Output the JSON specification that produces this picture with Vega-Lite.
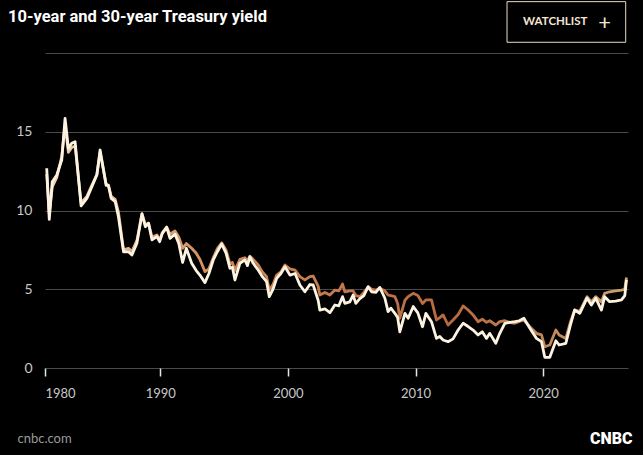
{
  "$schema": "https://vega.github.io/schema/vega-lite/v6.json",
  "autosize": {"type": "none"},
  "width": 583,
  "height": 315,
  "padding": {"left": 45, "top": 53, "right": 15, "bottom": 87},
  "background": "#000000",
  "config": {"view": {"stroke": null}},
  "title": {
    "text": "10-year and 30-year Treasury yield",
    "anchor": "start",
    "frame": "group",
    "dx": -37,
    "offset": -24.5,
    "color": "#ffffff",
    "font": "Roboto",
    "fontSize": 16.5,
    "fontWeight": "bold"
  },
  "data": {"values": [
    {"year": 1980.15, "y10": 12.68, "y30": 12.3},
    {"year": 1980.37, "y10": 9.44, "y30": 9.8},
    {"year": 1980.63, "y10": 11.83, "y30": 11.5},
    {"year": 1981.02, "y10": 12.25, "y30": 12.1},
    {"year": 1981.45, "y10": 13.2, "y30": 13.4},
    {"year": 1981.74, "y10": 15.85, "y30": 15.4},
    {"year": 1982.03, "y10": 13.95, "y30": 13.7},
    {"year": 1982.32, "y10": 14.27, "y30": 14.0},
    {"year": 1982.61, "y10": 14.37, "y30": 14.1},
    {"year": 1983.13, "y10": 10.29, "y30": 10.5},
    {"year": 1983.63, "y10": 10.77, "y30": 10.9},
    {"year": 1984.5, "y10": 12.25, "y30": 12.3},
    {"year": 1984.78, "y10": 13.84, "y30": 13.7},
    {"year": 1985.3, "y10": 11.6, "y30": 11.7},
    {"year": 1985.5, "y10": 11.6, "y30": 11.6},
    {"year": 1985.74, "y10": 10.77, "y30": 10.9},
    {"year": 1986.09, "y10": 10.56, "y30": 10.7},
    {"year": 1986.37, "y10": 9.6, "y30": 9.9},
    {"year": 1986.81, "y10": 7.38, "y30": 7.5},
    {"year": 1987.24, "y10": 7.38, "y30": 7.6},
    {"year": 1987.54, "y10": 7.17, "y30": 7.4},
    {"year": 1987.97, "y10": 7.92, "y30": 8.1},
    {"year": 1988.41, "y10": 9.78, "y30": 9.8},
    {"year": 1988.7, "y10": 8.97, "y30": 9.1},
    {"year": 1988.98, "y10": 9.19, "y30": 9.2},
    {"year": 1989.28, "y10": 8.13, "y30": 8.3},
    {"year": 1989.71, "y10": 8.34, "y30": 8.45},
    {"year": 1989.94, "y10": 8.02, "y30": 8.1},
    {"year": 1990.16, "y10": 8.55, "y30": 8.6},
    {"year": 1990.5, "y10": 8.93, "y30": 8.95},
    {"year": 1990.76, "y10": 8.23, "y30": 8.5},
    {"year": 1991.15, "y10": 8.5, "y30": 8.7},
    {"year": 1991.45, "y10": 7.9, "y30": 8.3},
    {"year": 1991.75, "y10": 6.7, "y30": 7.6},
    {"year": 1992.04, "y10": 7.6, "y30": 7.9},
    {"year": 1992.46, "y10": 6.65, "y30": 7.6},
    {"year": 1992.8, "y10": 6.2, "y30": 7.3},
    {"year": 1993.1, "y10": 5.9, "y30": 6.9},
    {"year": 1993.5, "y10": 5.42, "y30": 6.12},
    {"year": 1993.81, "y10": 6.0, "y30": 6.3},
    {"year": 1994.15, "y10": 6.86, "y30": 7.0},
    {"year": 1994.48, "y10": 7.4, "y30": 7.6},
    {"year": 1994.81, "y10": 7.87, "y30": 7.95},
    {"year": 1995.15, "y10": 7.3, "y30": 7.5},
    {"year": 1995.46, "y10": 6.33, "y30": 6.6},
    {"year": 1995.65, "y10": 6.4, "y30": 6.7},
    {"year": 1995.85, "y10": 5.59, "y30": 6.2},
    {"year": 1996.24, "y10": 6.65, "y30": 6.9},
    {"year": 1996.63, "y10": 6.86, "y30": 7.0},
    {"year": 1996.83, "y10": 6.5, "y30": 6.8},
    {"year": 1997.02, "y10": 7.07, "y30": 7.1},
    {"year": 1997.28, "y10": 6.65, "y30": 6.9},
    {"year": 1997.67, "y10": 6.22, "y30": 6.54},
    {"year": 1998.0, "y10": 5.8, "y30": 6.1},
    {"year": 1998.33, "y10": 5.48, "y30": 5.8},
    {"year": 1998.54, "y10": 4.53, "y30": 4.95},
    {"year": 1998.83, "y10": 5.0, "y30": 5.3},
    {"year": 1999.12, "y10": 5.69, "y30": 5.9},
    {"year": 1999.45, "y10": 6.0, "y30": 6.1},
    {"year": 1999.77, "y10": 6.43, "y30": 6.54},
    {"year": 2000.16, "y10": 5.9, "y30": 6.3},
    {"year": 2000.56, "y10": 6.0, "y30": 6.22},
    {"year": 2000.94, "y10": 5.27, "y30": 5.8},
    {"year": 2001.33, "y10": 4.84, "y30": 5.59},
    {"year": 2001.72, "y10": 5.3, "y30": 5.8},
    {"year": 2001.98, "y10": 5.27, "y30": 5.84},
    {"year": 2002.37, "y10": 4.3, "y30": 5.2},
    {"year": 2002.5, "y10": 3.68, "y30": 4.63},
    {"year": 2002.9, "y10": 3.75, "y30": 4.8},
    {"year": 2003.29, "y10": 3.51, "y30": 4.63},
    {"year": 2003.68, "y10": 4.0, "y30": 4.95},
    {"year": 2003.99, "y10": 3.95, "y30": 4.9},
    {"year": 2004.28, "y10": 4.53, "y30": 5.33},
    {"year": 2004.46, "y10": 4.1, "y30": 4.84},
    {"year": 2004.85, "y10": 4.2, "y30": 4.9},
    {"year": 2005.11, "y10": 4.63, "y30": 4.9},
    {"year": 2005.32, "y10": 4.1, "y30": 4.6},
    {"year": 2005.64, "y10": 4.4, "y30": 4.53},
    {"year": 2005.95, "y10": 4.6, "y30": 4.8},
    {"year": 2006.29, "y10": 5.16, "y30": 5.16},
    {"year": 2006.56, "y10": 4.84, "y30": 5.0},
    {"year": 2006.89, "y10": 4.8, "y30": 4.95},
    {"year": 2007.2, "y10": 5.12, "y30": 5.06},
    {"year": 2007.6, "y10": 4.43, "y30": 4.9},
    {"year": 2007.85, "y10": 3.58, "y30": 4.63},
    {"year": 2008.07, "y10": 3.8, "y30": 4.6},
    {"year": 2008.38, "y10": 3.47, "y30": 4.53},
    {"year": 2008.6, "y10": 3.2, "y30": 4.1},
    {"year": 2008.77, "y10": 2.3, "y30": 3.16},
    {"year": 2009.17, "y10": 3.47, "y30": 4.3},
    {"year": 2009.42, "y10": 3.16, "y30": 4.53},
    {"year": 2009.82, "y10": 3.9, "y30": 4.74},
    {"year": 2010.18, "y10": 3.5, "y30": 4.6},
    {"year": 2010.55, "y10": 2.62, "y30": 4.1},
    {"year": 2010.81, "y10": 3.47, "y30": 4.32},
    {"year": 2011.25, "y10": 2.94, "y30": 4.32},
    {"year": 2011.64, "y10": 1.88, "y30": 3.05},
    {"year": 2011.9, "y10": 2.0, "y30": 3.2},
    {"year": 2012.16, "y10": 1.78, "y30": 3.37},
    {"year": 2012.55, "y10": 1.67, "y30": 2.73},
    {"year": 2012.94, "y10": 1.85, "y30": 3.05},
    {"year": 2013.34, "y10": 2.41, "y30": 3.4},
    {"year": 2013.73, "y10": 2.84, "y30": 3.94},
    {"year": 2014.1, "y10": 2.65, "y30": 3.7},
    {"year": 2014.51, "y10": 2.41, "y30": 3.37},
    {"year": 2014.9, "y10": 2.1, "y30": 2.94},
    {"year": 2015.23, "y10": 2.3, "y30": 3.1},
    {"year": 2015.56, "y10": 1.88, "y30": 2.9},
    {"year": 2015.82, "y10": 2.2, "y30": 3.0},
    {"year": 2016.29, "y10": 1.57, "y30": 2.73},
    {"year": 2016.6, "y10": 2.2, "y30": 2.94},
    {"year": 2017.0, "y10": 2.84, "y30": 3.0},
    {"year": 2017.39, "y10": 2.9, "y30": 2.9},
    {"year": 2017.78, "y10": 2.94, "y30": 2.84},
    {"year": 2018.13, "y10": 3.0, "y30": 2.95},
    {"year": 2018.49, "y10": 3.16, "y30": 3.05},
    {"year": 2018.96, "y10": 2.52, "y30": 2.62},
    {"year": 2019.48, "y10": 1.88, "y30": 2.2},
    {"year": 2019.87, "y10": 1.67, "y30": 2.1},
    {"year": 2020.13, "y10": 0.68, "y30": 1.35},
    {"year": 2020.52, "y10": 0.68, "y30": 1.46},
    {"year": 2021.0, "y10": 1.73, "y30": 2.41},
    {"year": 2021.25, "y10": 1.46, "y30": 2.1},
    {"year": 2021.78, "y10": 1.57, "y30": 1.88},
    {"year": 2022.13, "y10": 2.7, "y30": 2.9},
    {"year": 2022.47, "y10": 3.68, "y30": 3.68},
    {"year": 2022.87, "y10": 3.47, "y30": 3.6},
    {"year": 2023.44, "y10": 4.43, "y30": 4.53},
    {"year": 2023.78, "y10": 4.0, "y30": 4.2},
    {"year": 2024.12, "y10": 4.43, "y30": 4.53},
    {"year": 2024.57, "y10": 3.68, "y30": 4.2},
    {"year": 2024.82, "y10": 4.53, "y30": 4.74},
    {"year": 2025.21, "y10": 4.21, "y30": 4.84},
    {"year": 2025.68, "y10": 4.25, "y30": 4.9},
    {"year": 2026.14, "y10": 4.32, "y30": 4.95},
    {"year": 2026.4, "y10": 4.6, "y30": 5.0},
    {"year": 2026.53, "y10": 5.6, "y30": 5.75}
  ]},
  "layer": [
    {
      "mark": {
        "type": "line",
        "strokeWidth": 2.8,
        "strokeJoin": "round",
        "stroke": {
          "gradient": "linear",
          "stops": [
            {"offset": 0, "color": "#f3d2b0"},
            {"offset": 0.3, "color": "#cf8a58"},
            {"offset": 0.7, "color": "#b8693f"},
            {"offset": 1, "color": "#c9a26c"}
          ]
        }
      },
      "encoding": {
        "x": {
          "field": "year",
          "type": "quantitative",
          "scale": {"domain": [1980, 1990, 2026.65], "range": [0, 115.3, 583], "nice": false, "zero": false},
          "axis": {
            "values": [1980, 1990, 2000, 2010, 2020],
            "format": "d",
            "grid": false,
            "domain": false,
            "ticks": true,
            "tickColor": "#e6e6e6",
            "tickSize": 8,
            "tickWidth": 1.5,
            "labelColor": "#c8c8c8",
            "labelFont": "Lato",
            "labelFontSize": 13,
            "labelPadding": 11,
            "title": "cnbc.com",
            "titleX": -28,
            "titleY": 70,
            "titleAlign": "left",
            "titleBaseline": "middle",
            "titleColor": "#9a9a9a",
            "titleFont": "Lato",
            "titleFontSize": 13,
            "titleFontWeight": "normal"
          }
        },
        "y": {
          "field": "y30",
          "type": "quantitative",
          "scale": {"domain": [0, 20], "nice": false},
          "axis": {
            "values": [0, 5, 10, 15, 20],
            "labelExpr": "datum.value == 20 ? '' : datum.label",
            "grid": true,
            "gridColor": "#4a4a4a",
            "gridWidth": 1,
            "domain": false,
            "ticks": false,
            "labelPadding": 13,
            "labelColor": "#c8c8c8",
            "labelFont": "Lato",
            "labelFontSize": 14,
            "title": "CNBC",
            "titleAngle": 0,
            "titleX": 587,
            "titleY": 385,
            "titleAlign": "right",
            "titleBaseline": "middle",
            "titleColor": "#ffffff",
            "titleFont": "Roboto",
            "titleFontSize": 16,
            "titleFontWeight": 900
          }
        }
      }
    },
    {
      "mark": {"type": "line", "strokeWidth": 2.8, "strokeJoin": "round", "stroke": "#fdf3e3"},
      "encoding": {
        "x": {"field": "year", "type": "quantitative"},
        "y": {"field": "y10", "type": "quantitative"}
      }
    },
    {
      "data": {"values": [{"label": "WATCHLIST", "plus": "+"}]},
      "layer": [
        {
          "mark": {"type": "rect", "fill": "#000000", "stroke": "#e8dcc8", "strokeWidth": 1},
          "encoding": {
            "x": {"datum": 2017.17},
            "x2": {"datum": 2026.47},
            "y": {"datum": 23.26},
            "y2": {"datum": 20.68}
          }
        },
        {
          "mark": {"type": "text", "fill": "#f3e6d3", "font": "Lato", "fontSize": 11.5, "fontWeight": "bold", "baseline": "middle", "align": "center"},
          "encoding": {
            "x": {"datum": 2020.95},
            "y": {"datum": 21.97},
            "text": {"field": "label"}
          }
        },
        {
          "mark": {"type": "text", "fill": "#f3e6d3", "font": "Lato", "fontSize": 22, "fontWeight": "normal", "baseline": "middle", "align": "center"},
          "encoding": {
            "x": {"datum": 2024.82},
            "y": {"datum": 21.9},
            "text": {"field": "plus"}
          }
        }
      ]
    }
  ]
}
